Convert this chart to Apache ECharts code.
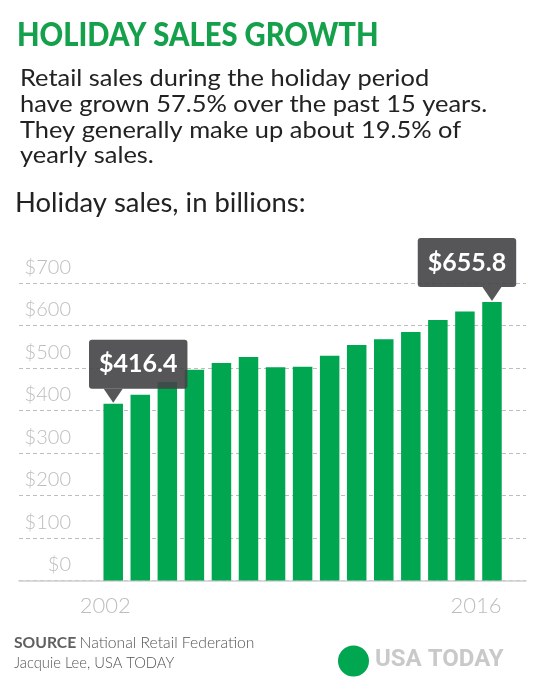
<!DOCTYPE html>
<html>
<head>
<meta charset="utf-8">
<script src="https://cdn.jsdelivr.net/npm/echarts@6/dist/echarts.min.js"></script>
<style>
html,body{margin:0;padding:0;background:#fff;}
#c{width:541px;height:692px;}
</style>
</head>
<body>
<div id="c"></div>
<script>
const years = ['2002','2003','2004','2005','2006','2007','2008','2009','2010','2011','2012','2013','2014','2015','2016'];
const sales = [416.4, 437.6, 467.2, 496.0, 512.1, 526.4, 502.0, 503.2, 529.0, 554.6, 568.0, 585.0, 613.5, 633.5, 655.8];
const yTicks = [0, 100, 200, 300, 400, 500, 600, 700];
const titleText = 'HOLIDAY SALES GROWTH';
const bodyLines = [
  'Retail sales during the holiday period',
  'have grown 57.5% over the past 15 years.',
  'They generally make up about 19.5% of',
  'yearly sales.'
];
const axisTitle = 'Holiday sales, in billions:';
const sourceText = 'National Retail Federation';
const creditText = 'Jacquie Lee, USA TODAY';

const GREEN = '#00a650';
const BOX = 'rgba(68,68,70,0.9)';
const last = sales.length - 1;

const barData = sales.map((v, i) => {
  if (i === 0 || i === last) {
    return {
      value: v,
      label: {
        show: true,
        position: 'top',
        distance: 15,
        offset: [i === 0 ? 25 : -25, 0]
      }
    };
  }
  return v;
});

const chart = echarts.init(document.getElementById('c'), null, {renderer: 'canvas'});

function txt(x, y, sx, style) {
  return {type: 'text', x: x, y: y, scaleX: sx, style: Object.assign({align: 'left', verticalAlign: 'top'}, style)};
}

const graphics = [
  txt(17, 19, 0.885, {text: titleText, fill: '#15a04c', font: '900 33px Lato'}),
  txt(15, 191, 1.055, {text: axisTitle, fill: '#222', font: '400 26px Lato'}),
  txt(14, 635, 1, {
    text: '{b|SOURCE} {n|' + sourceText + '}',
    rich: {
      b: {font: '700 15.7px Lato', fill: '#606060'},
      n: {font: '300 15.7px Lato', fill: '#555'}
    }
  }),
  txt(14, 655, 0.95, {text: creditText, fill: '#555', font: '300 15.5px Lato'}),
  {type: 'circle', shape: {cx: 353.5, cy: 661, r: 15.5}, style: {fill: GREEN}},
  txt(375, 648, 1, {text: 'USA TODAY', fill: '#c9c9c9', font: '700 24px Roboto'})
];
bodyLines.forEach((t, i) => {
  graphics.push(txt(20, 66 + i * 25.9, 1.06, {text: t, fill: '#222', font: '400 24px Lato'}));
});

chart.setOption({
  animation: false,
  backgroundColor: '#fff',
  graphic: graphics,
  grid: [
    {left: 19, right: 15, top: 283.2, bottom: 111.4},
    {left: 99.7, right: 35.5, top: 283.2, bottom: 111.4}
  ],
  xAxis: [
    {
      gridIndex: 0, type: 'value', min: 0, max: 1,
      axisLine: {show: true, lineStyle: {color: '#cfcfcf', width: 1.5}},
      axisTick: {show: false}, axisLabel: {show: false}, splitLine: {show: false}
    },
    {
      gridIndex: 1, type: 'category', data: years,
      axisLine: {show: false}, axisTick: {show: false}, splitLine: {show: false},
      axisLabel: {
        interval: 0, margin: 14,
        formatter: (v, i) => i === 0 ? '{a|' + v + '}' : (i === last ? '{b|' + v + '}' : ''),
        rich: {
          a: {fontFamily: 'Lato', fontWeight: 300, fontSize: 22, color: '#bdbdbd', padding: [0, 16, 0, 0]},
          b: {fontFamily: 'Lato', fontWeight: 300, fontSize: 22, color: '#bdbdbd', padding: [0, 32, 0, 0]}
        }
      }
    }
  ],
  yAxis: [
    {
      gridIndex: 0, type: 'value', min: yTicks[0], max: yTicks[yTicks.length - 1], interval: 100,
      axisLine: {show: false}, axisTick: {show: false},
      splitLine: {show: true, lineStyle: {color: '#bdbdbd', type: [4, 3], width: 1}},
      axisLabel: {
        inside: true, margin: 52, align: 'right', verticalAlign: 'bottom',
        padding: [0, 0, 6, 0],
        showMinLabel: true, showMaxLabel: true,
        formatter: v => '$' + v,
        fontFamily: 'Lato', fontWeight: 300, fontSize: 20, color: '#bdbdbd'
      }
    },
    {
      gridIndex: 1, type: 'value', min: yTicks[0], max: yTicks[yTicks.length - 1], interval: 100,
      show: false
    }
  ],
  series: [{
    type: 'bar',
    xAxisIndex: 1, yAxisIndex: 1,
    data: barData,
    barWidth: 19.5,
    itemStyle: {color: GREEN},
    label: {
      show: false,
      formatter: p => '$' + p.value.toFixed(1),
      fontFamily: 'Lato', fontWeight: 700, fontSize: 25, color: '#fff',
      lineHeight: 29,
      backgroundColor: BOX, borderRadius: 3,
      padding: [10, 10, 10, 10]
    },
    markPoint: {
      symbol: 'triangle',
      symbolSize: [19, 14],
      symbolRotate: 180,
      symbolOffset: [0, -8],
      itemStyle: {color: BOX},
      label: {show: false},
      data: [
        {coord: [0, sales[0]]},
        {coord: [last, sales[last]]}
      ]
    }
  }]
});
</script>
</body>
</html>
